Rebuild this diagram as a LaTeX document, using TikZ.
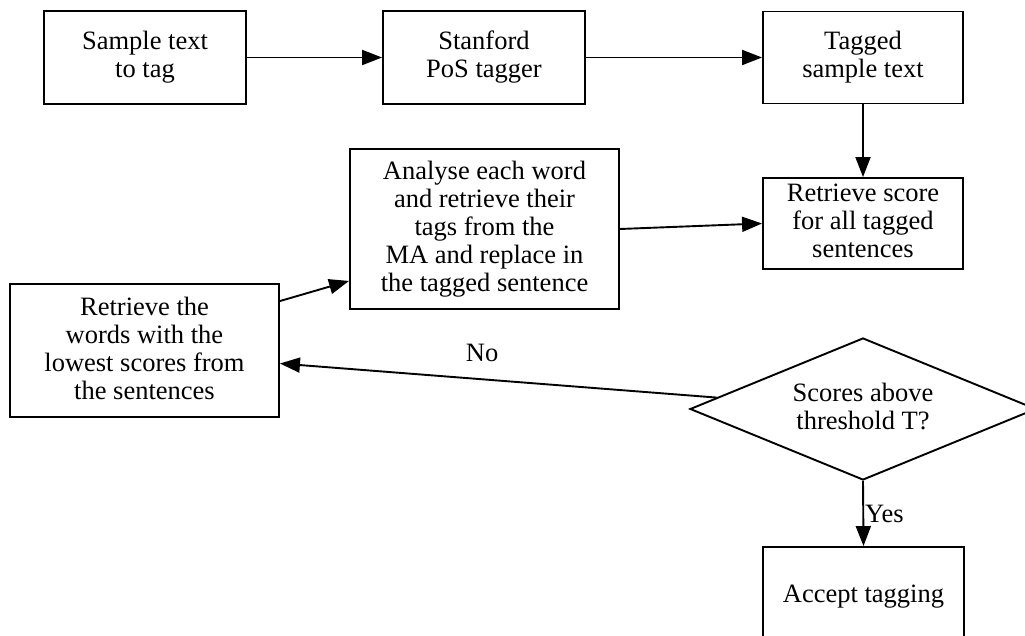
\documentclass[tikz,border=0pt]{standalone}
\usepackage{fontspec}
\setmainfont{Liberation Serif}
\usetikzlibrary{arrows.meta,shapes.geometric,calc}
\begin{document}
\begin{tikzpicture}[x=1pt,y=-1pt,
  every node/.style={font=\fontsize{26.5}{28}\selectfont, align=center, inner sep=0pt,
    execute at begin node={\rule{0pt}{23pt}}, execute at end node={\rule[-5pt]{0pt}{5pt}}},
  procbox/.style={draw, line width=1.9pt, rectangle},
  decision/.style={draw, line width=1.9pt, diamond, aspect=2.44},
  flow/.style={line width=1.9pt, -{Triangle[length=20pt,width=15pt]}},
  lbl/.style={inner sep=1pt}]
\useasboundingbox (0,0) rectangle (1025,636);
\clip (0,0) rectangle (1025,636);
\node[procbox, minimum width=202pt, minimum height=93pt] (s1) at (145,57.5) {Sample text\\to tag};
\node[procbox, minimum width=202pt, minimum height=93pt] (s2) at (484,57.5) {Stanford\\PoS tagger};
\node[procbox, minimum width=200pt, minimum height=92pt] (s3) at (863,57.5) {Tagged\\sample text};
\node[procbox, minimum width=200pt, minimum height=91pt] (s4) at (863,223.5) {Retrieve score\\for all tagged\\sentences};
\node[procbox, minimum width=269pt, minimum height=160pt] (s5) at (484.5,229) {Analyse each word\\and retrieve their\\tags from the\\MA and replace in\\the tagged sentence};
\node[procbox, minimum width=269pt, minimum height=133pt] (s6) at (144.5,350.5) {Retrieve the\\words with the\\lowest scores from\\the sentences};
\node[decision, minimum width=346pt, minimum height=142pt] (d) at (863,409) {Scores above\\threshold T?};
\node[procbox, minimum width=201pt, minimum height=94pt] (acc) at (863.5,594) {Accept tagging};
\draw[flow] (s1.east) -- (s2.west);
\draw[flow] (s2.east) -- (s3.west);
\draw[flow] (s3.south) -- (s4.north);
\draw[flow] (s5.east) -- (s4.west);
\draw[flow] ([yshift=-18pt]s6.north east) -- ([yshift=29pt]s5.south west);
\draw[flow] (d) -- ([yshift=-13pt]s6.east) node[lbl, pos=0.537, yshift=27pt] {No};
\draw[flow] (d.south) -- (acc.north) node[lbl, midway, right] {Yes};
\end{tikzpicture}
\end{document}
